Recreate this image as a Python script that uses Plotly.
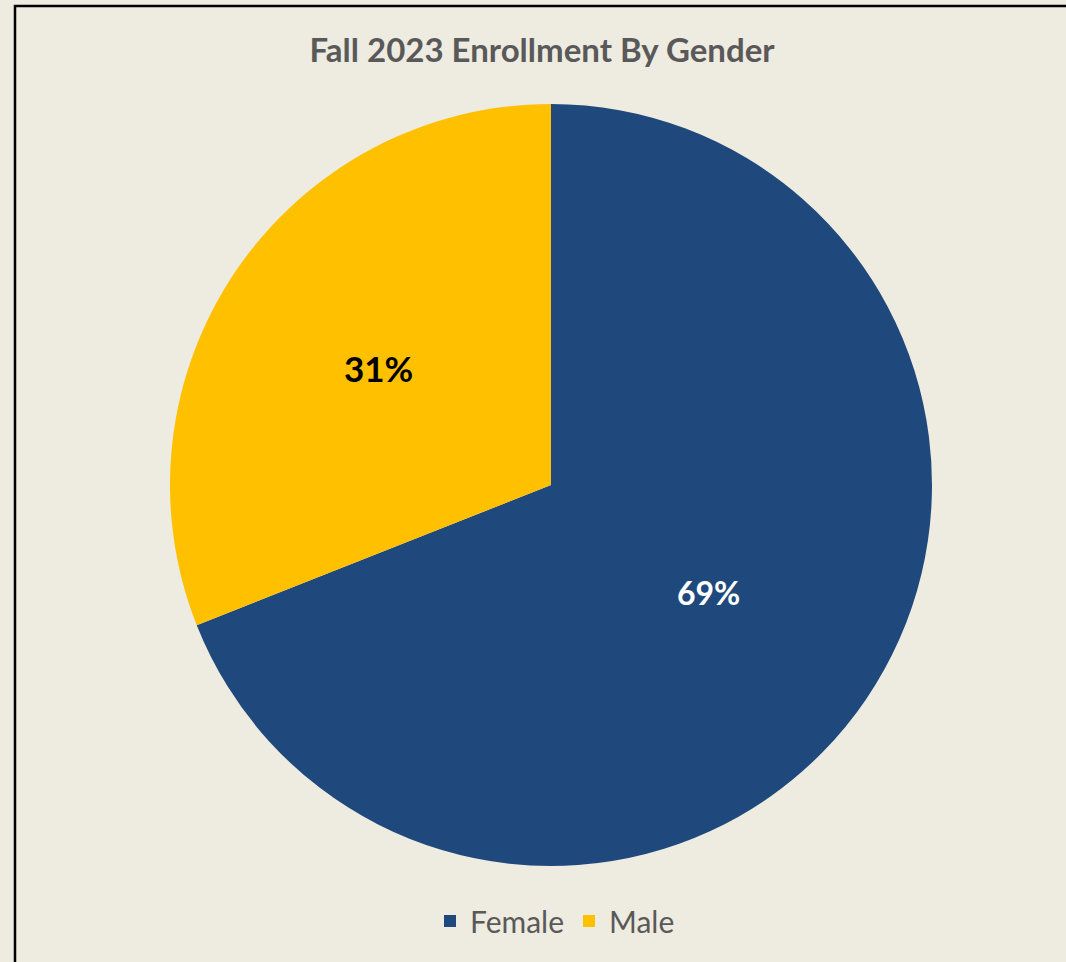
import plotly.graph_objects as go

labels = ["Female", "Male"]
values = [69, 31]
colors = ["#1F497D", "#FFC000"]
text_colors = ["#FFFFFF", "#000000"]
text_sizes = [32, 35]

W, H = 1066, 962
bg = "#EEEBE0"

fig = go.Figure(go.Pie(
    labels=labels,
    values=values,
    marker=dict(colors=colors, line=dict(width=0)),
    sort=False,
    direction="clockwise",
    rotation=0,
    texttemplate="%{percent:.0%}",
    textposition="inside",
    insidetextorientation="horizontal",
    insidetextfont=dict(family="Lato", size=text_sizes, color=text_colors, weight="bold"),
    domain=dict(x=[170 / W, 932 / W], y=[1 - 866 / H, 1 - 104 / H]),
    hoverinfo="label+percent",
))

fig.update_layout(
    width=W, height=H, autosize=False,
    margin=dict(l=0, r=0, t=0, b=0),
    paper_bgcolor=bg, plot_bgcolor=bg,
    title=dict(text="<b>Fall 2023 Enrollment By Gender</b>",
               x=542 / W, xanchor="center", y=1 - 50 / H, yanchor="middle",
               font=dict(family="Lato", size=33, color="#595959")),
    legend=dict(orientation="h", x=555 / W, xanchor="center",
                y=1 - 921 / H, yanchor="middle",
                font=dict(family="Lato", size=30, color="#595959"),
                bgcolor="rgba(0,0,0,0)", itemclick=False),
    shapes=[dict(type="rect", xref="paper", yref="paper",
                 x0=15 / W, x1=1.02, y0=-0.02, y1=1 - 6 / H,
                 line=dict(color="#000000", width=2.5), layer="above")],
)

fig.write_html("out.html",
               config={"displayModeBar": False},
               post_script="document.body.style.margin='0';document.body.style.overflow='hidden';")
